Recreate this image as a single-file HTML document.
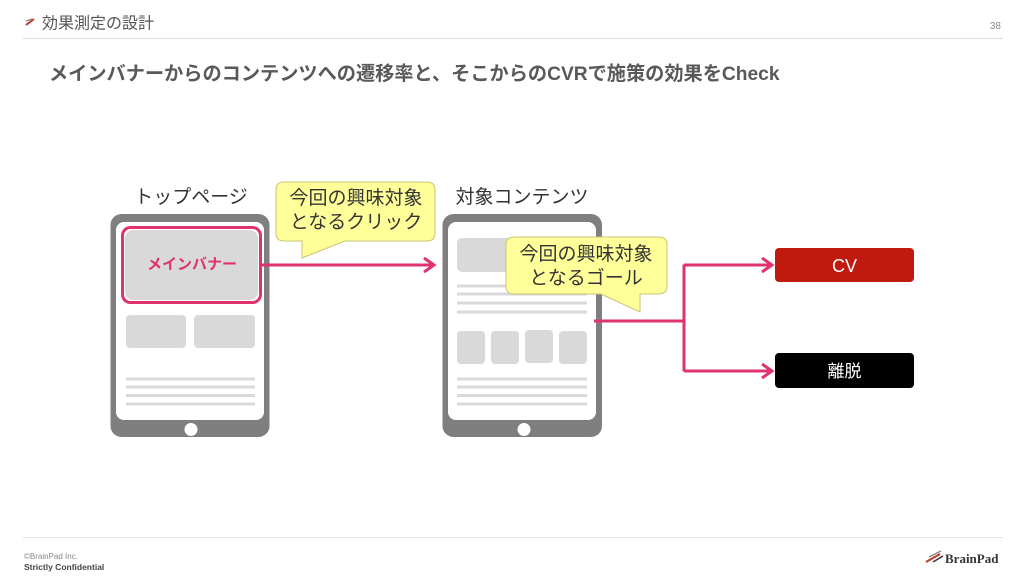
<!DOCTYPE html>
<html><head><meta charset="utf-8">
<style>
html,body{margin:0;padding:0;background:#fff;}
body{width:1024px;height:576px;overflow:hidden;position:relative;font-family:"Liberation Sans","Noto Sans CJK JP",sans-serif;}
svg{position:absolute;left:0;top:0;}
</style></head>
<body>
<svg width="1024" height="576" viewBox="0 0 1024 576" xmlns="http://www.w3.org/2000/svg" font-family="'Liberation Sans','Noto Sans CJK JP',sans-serif">
  <!-- header -->
  <path d="M26 25 L34 19" stroke="#c0392b" stroke-width="2"/>
  <path d="M26 21 L32 19" stroke="#888" stroke-width="1.2"/>
  <text x="42" y="28.5" font-size="16" fill="#555">効果測定の設計</text>
  <text x="1001" y="29" font-size="10" fill="#888" text-anchor="end">38</text>
  <line x1="23" y1="38.5" x2="1003" y2="38.5" stroke="#ddd" stroke-width="1"/>
  <text x="49" y="80" font-size="19.2" font-weight="bold" fill="#595959">メインバナーからのコンテンツへの遷移率と、そこからのCVRで施策の効果をCheck</text>

  <!-- tablet 1 -->
  <text x="191" y="203" font-size="19" fill="#333" text-anchor="middle">トップページ</text>
  <rect x="110.5" y="214" width="159" height="223" rx="11" fill="#7f7f7f"/>
  <rect x="116" y="222" width="148" height="198" rx="8" fill="#fff"/>
  <circle cx="191" cy="429.5" r="6.5" fill="#fff"/>
  <rect x="122.5" y="227.5" width="138" height="75" rx="8" fill="#fff" stroke="#e03270" stroke-width="3"/>
  <rect x="125" y="230" width="133" height="70" rx="8" fill="#d9d9d9"/>
  <text x="192" y="269" font-size="15" font-weight="bold" fill="#e03270" text-anchor="middle">メインバナー</text>
  <rect x="126" y="315" width="60" height="33" rx="4" fill="#d9d9d9"/>
  <rect x="194" y="315" width="61" height="33" rx="4" fill="#d9d9d9"/>
  <g stroke="#d9d9d9" stroke-width="3">
    <line x1="126" y1="379" x2="255" y2="379"/>
    <line x1="126" y1="387" x2="255" y2="387"/>
    <line x1="126" y1="395.5" x2="255" y2="395.5"/>
    <line x1="126" y1="404" x2="255" y2="404"/>
  </g>

  <!-- arrow 1 -->
  <line x1="262" y1="265" x2="433" y2="265" stroke="#e03270" stroke-width="3"/>
  <path d="M424 258 L434 265 L424 272" fill="none" stroke="#e03270" stroke-width="3"/>

  <!-- callout 1 -->
  <path d="M284 182 H427 Q435 182 435 190 V233 Q435 241 427 241 H345 L302 258 V241 H284 Q276 241 276 233 V190 Q276 182 284 182 Z" fill="#ffff99" stroke="#c9c474" stroke-width="1"/>
  <text x="356" y="204" font-size="19" fill="#333" text-anchor="middle">今回の興味対象</text>
  <text x="356" y="228" font-size="19" fill="#333" text-anchor="middle">となるクリック</text>

  <!-- tablet 2 -->
  <text x="522" y="203" font-size="19" fill="#333" text-anchor="middle">対象コンテンツ</text>
  <rect x="442.5" y="214" width="159.5" height="223" rx="11" fill="#7f7f7f"/>
  <rect x="448" y="222" width="148" height="198" rx="8" fill="#fff"/>
  <circle cx="524" cy="429.5" r="6.5" fill="#fff"/>
  <rect x="457" y="238" width="130" height="34" rx="5" fill="#d9d9d9"/>
  <g stroke="#d9d9d9" stroke-width="3">
    <line x1="457" y1="286" x2="587" y2="286"/>
    <line x1="457" y1="294" x2="587" y2="294"/>
    <line x1="457" y1="303" x2="587" y2="303"/>
    <line x1="457" y1="312" x2="587" y2="312"/>
  </g>
  <rect x="457" y="331" width="28" height="33" rx="4" fill="#d9d9d9"/>
  <rect x="491" y="331" width="28" height="33" rx="4" fill="#d9d9d9"/>
  <rect x="525" y="330" width="28" height="33" rx="4" fill="#d9d9d9"/>
  <rect x="559" y="331" width="28" height="33" rx="4" fill="#d9d9d9"/>
  <g stroke="#d9d9d9" stroke-width="3">
    <line x1="457" y1="379" x2="587" y2="379"/>
    <line x1="457" y1="387" x2="587" y2="387"/>
    <line x1="457" y1="395.5" x2="587" y2="395.5"/>
    <line x1="457" y1="404" x2="587" y2="404"/>
  </g>

  <!-- connector -->
  <path d="M594 321 H684 M684 264.5 V371.5 M684 265 H771 M684 371 H771" fill="none" stroke="#e03270" stroke-width="3"/>
  <path d="M762 258 L772 265 L762 272" fill="none" stroke="#e03270" stroke-width="3"/>
  <path d="M762 364 L772 371 L762 378" fill="none" stroke="#e03270" stroke-width="3"/>

  <!-- callout 2 -->
  <path d="M514 237 H659 Q667 237 667 245 V286 Q667 294 659 294 H640 V312 L601 294 H514 Q506 294 506 286 V245 Q506 237 514 237 Z" fill="#ffff99" stroke="#c9c474" stroke-width="1"/>
  <text x="586" y="260" font-size="19" fill="#333" text-anchor="middle">今回の興味対象</text>
  <text x="586" y="284" font-size="19" fill="#333" text-anchor="middle">となるゴール</text>

  <!-- result boxes -->
  <rect x="775" y="248" width="139" height="34" rx="4" fill="#c01a10"/>
  <text x="844.5" y="272" font-size="18" fill="#fff" text-anchor="middle">CV</text>
  <rect x="775" y="353" width="139" height="35" rx="4" fill="#000"/>
  <text x="844.5" y="377" font-size="17" fill="#fff" text-anchor="middle">離脱</text>

  <!-- footer -->
  <line x1="23" y1="537.5" x2="1003" y2="537.5" stroke="#e3e3e3" stroke-width="1"/>
  <text x="24" y="559" font-size="8" fill="#888">©BrainPad Inc.</text>
  <text x="24" y="570" font-size="8.5" font-weight="bold" fill="#444">Strictly Confidential</text>
  <path d="M926 562 L940 554" stroke="#c0392b" stroke-width="2"/>
  <path d="M929 557 L941 551" stroke="#888" stroke-width="1.5"/>
  <path d="M933 562 L943 556" stroke="#333" stroke-width="1.5"/>
  <text x="945" y="563" font-size="13" font-weight="bold" fill="#333" font-family="'Liberation Serif',serif">BrainPad</text>
</svg>
</body></html>
